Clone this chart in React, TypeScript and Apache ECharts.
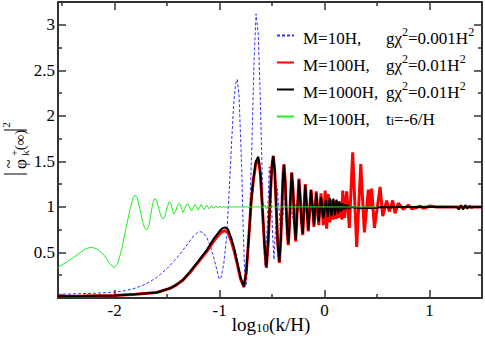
import { useEffect, useRef } from 'react';
import * as echarts from 'echarts';

const FONT = 'Liberation Serif';

// Axis ticks
const xMajorTicks = [-2, -1, 0, 1];
const xMinorTicks = [-2.5, -1.5, -0.5, 0.5];
const yMajorTicks = [0.5, 1, 1.5, 2, 2.5, 3];
const yMinorTicks = [0.25, 0.75, 1.25, 1.75, 2.25, 2.75];

// Series names (legend)
const seriesNames = [
  'M=10H, gχ2=0.001H2',
  'M=100H, gχ2=0.01H2',
  'M=1000H, gχ2=0.01H2',
  'M=100H, ti=-6/H',
];

// x = log10(k/H), y = |phi_k(inf)|^2
const blueM10: [number, number][] = [
  [-2.54, 0.04], [-2.4, 0.045], [-2.2, 0.052], [-2.0, 0.065], [-1.9, 0.08], [-1.806, 0.107],
  [-1.7, 0.155], [-1.6, 0.225], [-1.5, 0.325], [-1.45, 0.385], [-1.4, 0.45], [-1.346, 0.53],
  [-1.3, 0.6], [-1.25, 0.68], [-1.21, 0.72], [-1.186, 0.728], [-1.16, 0.72], [-1.12, 0.66],
  [-1.08, 0.54], [-1.05, 0.42], [-1.025, 0.3], [-1.003, 0.205], [-0.985, 0.23], [-0.96, 0.38],
  [-0.933, 0.67], [-0.91, 1.15], [-0.885, 1.73], [-0.865, 2.15], [-0.848, 2.35], [-0.832, 2.4],
  [-0.815, 2.22], [-0.79, 1.44], [-0.775, 0.75], [-0.758, 0.16], [-0.745, 0.15], [-0.72, 0.72],
  [-0.694, 1.62], [-0.672, 2.6], [-0.653, 3.12], [-0.632, 2.9], [-0.615, 2.3], [-0.6, 1.62],
  [-0.585, 0.9], [-0.57, 0.36], [-0.555, 0.55], [-0.54, 1.0], [-0.527, 1.44], [-0.51, 1.15],
  [-0.495, 0.7], [-0.482, 0.42], [-0.465, 0.8], [-0.45, 1.2], [-0.432, 0.95], [-0.415, 0.62],
  [-0.397, 0.88], [-0.38, 1.12], [-0.362, 0.95], [-0.345, 0.78], [-0.325, 1.08], [-0.305, 0.88],
  [-0.285, 1.06], [-0.265, 0.92], [-0.245, 1.04], [-0.225, 0.96], [-0.2, 1.02], [-0.17, 0.99],
  [-0.13, 1.0], [1.5, 1.0],
];

const redM100: [number, number][] = [
  [-2.54, 0.02], [-2.3, 0.022], [-2.0, 0.027], [-1.8, 0.04], [-1.6, 0.06], [-1.473, 0.105],
  [-1.42, 0.138], [-1.35, 0.195], [-1.282, 0.28], [-1.2, 0.4], [-1.123, 0.51], [-1.05, 0.635],
  [-1.0, 0.705], [-0.975, 0.73], [-0.949, 0.739], [-0.92, 0.72], [-0.89, 0.63], [-0.86, 0.51],
  [-0.837, 0.4], [-0.8, 0.21], [-0.768, 0.12], [-0.745, 0.3], [-0.72, 0.7], [-0.7, 1.05],
  [-0.679, 1.29], [-0.655, 1.48], [-0.632, 1.53], [-0.612, 1.37], [-0.592, 0.98], [-0.572, 0.57],
  [-0.555, 0.33], [-0.537, 0.62], [-0.518, 1.1], [-0.502, 1.45], [-0.489, 1.56], [-0.475, 1.4],
  [-0.46, 0.98], [-0.445, 0.57], [-0.431, 0.385], [-0.418, 0.62], [-0.405, 1.05], [-0.395, 1.36],
  [-0.387, 1.47], [-0.376, 1.3], [-0.365, 0.98], [-0.355, 0.71], [-0.346, 0.58], [-0.336, 0.76],
  [-0.325, 1.1], [-0.313, 1.38], [-0.301, 1.2], [-0.288, 0.84], [-0.275, 0.62], [-0.262, 0.92],
  [-0.244, 1.31], [-0.232, 1.1], [-0.22, 0.84], [-0.208, 0.69], [-0.196, 0.98], [-0.184, 1.25],
  [-0.17, 1.0], [-0.155, 0.73], [-0.142, 0.97], [-0.129, 1.19], [-0.115, 1.0], [-0.101, 0.78],
  [-0.079, 1.17], [-0.056, 0.8], [-0.034, 1.15], [-0.012, 0.8], [0.006, 1.18], [0.02, 0.76],
  [0.035, 1.14], [0.05, 0.83], [0.066, 1.08], [0.08, 0.86], [0.095, 1.07], [0.11, 0.87],
  [0.125, 1.06], [0.14, 0.88], [0.155, 1.05], [0.165, 0.86], [0.173, 1.18], [0.19, 0.88],
  [0.211, 1.17], [0.236, 0.77], [0.268, 1.6], [0.306, 0.56], [0.345, 1.47], [0.379, 0.72],
  [0.417, 1.19], [0.433, 0.98], [0.449, 1.2], [0.475, 0.77], [0.529, 1.22], [0.554, 0.9],
  [0.592, 1.07], [0.617, 0.95], [0.649, 1.07], [0.671, 0.93], [0.703, 1.04], [0.75, 0.975],
  [0.798, 1.02], [0.83, 0.98], [0.87, 0.99], [0.91, 1.01], [0.94, 0.985], [1.005, 1.01],
  [1.07, 1.0], [1.5, 1.0],
];

const blackM1000: [number, number][] = [
  [-2.54, 0.02], [-2.3, 0.022], [-2.0, 0.027], [-1.8, 0.04], [-1.6, 0.06], [-1.473, 0.107],
  [-1.42, 0.14], [-1.35, 0.2], [-1.282, 0.289], [-1.2, 0.41], [-1.123, 0.527], [-1.05, 0.66],
  [-1.0, 0.735], [-0.975, 0.765], [-0.949, 0.776], [-0.92, 0.755], [-0.89, 0.66], [-0.86, 0.54],
  [-0.837, 0.417], [-0.8, 0.22], [-0.768, 0.124], [-0.745, 0.3], [-0.72, 0.7], [-0.7, 1.05],
  [-0.679, 1.296], [-0.655, 1.5], [-0.632, 1.551], [-0.612, 1.38], [-0.592, 0.98], [-0.572, 0.58],
  [-0.555, 0.344], [-0.537, 0.62], [-0.518, 1.1], [-0.502, 1.45], [-0.489, 1.559], [-0.475, 1.4],
  [-0.46, 0.98], [-0.445, 0.58], [-0.431, 0.399], [-0.418, 0.62], [-0.405, 1.05], [-0.395, 1.35],
  [-0.387, 1.46], [-0.376, 1.3], [-0.365, 0.98], [-0.355, 0.72], [-0.346, 0.6], [-0.336, 0.76],
  [-0.325, 1.1], [-0.313, 1.369], [-0.301, 1.2], [-0.288, 0.84], [-0.275, 0.637], [-0.262, 0.92],
  [-0.244, 1.296], [-0.232, 1.1], [-0.22, 0.84], [-0.208, 0.71], [-0.196, 0.98], [-0.184, 1.24],
  [-0.17, 1.0], [-0.155, 0.747], [-0.142, 0.97], [-0.129, 1.186], [-0.115, 1.0], [-0.101, 0.8],
  [-0.079, 1.15], [-0.056, 0.838], [-0.034, 1.112], [-0.012, 0.875], [0.014, 1.076], [0.031, 0.89],
  [0.049, 1.1], [0.066, 0.9], [0.083, 1.09], [0.099, 0.91], [0.114, 1.08], [0.129, 0.93],
  [0.143, 1.06], [0.157, 0.95], [0.17, 1.04], [0.183, 0.97], [0.196, 1.03], [0.208, 0.98],
  [0.22, 1.02], [0.232, 0.985], [0.25, 1.0], [0.3, 0.99], [0.35, 0.985], [0.4, 0.99],
  [0.45, 0.985], [0.5, 0.99], [0.55, 1.0], [0.6, 0.995], [0.7, 1.0], [1.2, 1.0],
  [1.26, 1.0], [1.28, 0.97], [1.3, 1.02], [1.32, 0.97], [1.34, 1.02], [1.36, 0.98],
  [1.38, 1.01], [1.4, 0.99], [1.42, 1.0], [1.5, 1.0],
];

const greenTi: [number, number][] = [
  [-2.54, 0.337], [-2.45, 0.4], [-2.35, 0.48], [-2.28, 0.54], [-2.226, 0.557], [-2.17, 0.54],
  [-2.1, 0.47], [-2.05, 0.38], [-2.004, 0.333], [-1.97, 0.38], [-1.93, 0.55], [-1.89, 0.78],
  [-1.85, 0.99], [-1.825, 1.1], [-1.806, 1.131], [-1.785, 1.1], [-1.76, 0.98], [-1.735, 0.84],
  [-1.715, 0.77], [-1.695, 0.747], [-1.675, 0.79], [-1.655, 0.92], [-1.635, 1.05], [-1.616, 1.095],
  [-1.597, 1.06], [-1.575, 0.96], [-1.555, 0.89], [-1.537, 0.867], [-1.52, 0.9], [-1.5, 1.0],
  [-1.479, 1.057], [-1.462, 1.03], [-1.448, 0.96], [-1.435, 0.922], [-1.42, 0.95], [-1.403, 1.01],
  [-1.387, 1.04], [-1.372, 1.02], [-1.36, 0.97], [-1.349, 0.941], [-1.335, 0.97], [-1.32, 1.02],
  [-1.304, 1.035], [-1.286, 1.0], [-1.268, 0.955], [-1.252, 0.99], [-1.235, 1.03], [-1.22, 1.0],
  [-1.204, 0.965], [-1.19, 0.995], [-1.176, 1.025], [-1.162, 1.0], [-1.149, 0.972], [-1.137, 0.995],
  [-1.124, 1.02], [-1.1, 0.978], [-1.077, 1.015], [-1.056, 0.984], [-1.035, 1.012], [-1.015, 0.99],
  [-0.997, 1.008], [-0.98, 0.993], [-0.962, 1.006], [-0.945, 0.995], [-0.92, 1.0], [-0.62, 1.0],
  [-0.6, 1.015], [-0.585, 0.985], [-0.57, 1.02], [-0.555, 0.98], [-0.54, 1.015], [-0.525, 0.99],
  [-0.5, 1.01], [-0.48, 1.0], [0.5, 1.0],
];

// Legend rich labels
const legendRich: Record<string, string> = {
  [seriesNames[0]]: '{a|M=10H,}{b|gχ}{p|2}{b|=0.001H}{p|2}',
  [seriesNames[1]]: '{a|M=100H,}{b|gχ}{p|2}{b|=0.01H}{p|2}',
  [seriesNames[2]]: '{a|M=1000H,}{b|gχ}{p|2}{b|=0.01H}{p|2}',
  [seriesNames[3]]: '{a|M=100H,}{b|t}{s|i}{b|=-6/H}',
};

const axisColor = '#333';

function makeXAxis(position: 'top' | 'bottom', major: boolean, labels: boolean) {
  return {
    type: 'value',
    position,
    min: -2.54,
    max: 1.5,
    axisLine: { show: major, onZero: false, lineStyle: { color: axisColor, width: 2 } },
    axisTick: {
      show: true, inside: true, length: major ? 8 : 4,
      customValues: major ? xMajorTicks : xMinorTicks,
      lineStyle: { color: axisColor, width: 1.5 },
    },
    axisLabel: labels
      ? {
          show: true, margin: 4, fontFamily: FONT, fontSize: 17, color: '#000',
          formatter: (v: number) => (xMajorTicks.indexOf(v) >= 0 ? String(v) : ''),
        }
      : { show: false },
    splitLine: { show: false },
  };
}

function makeYAxis(position: 'left' | 'right', major: boolean, labels: boolean) {
  return {
    type: 'value',
    position,
    min: 0,
    max: 3.25,
    interval: 0.5,
    axisLine: { show: major, onZero: false, lineStyle: { color: axisColor, width: 2 } },
    axisTick: {
      show: true, inside: true, length: major ? 8 : 4,
      customValues: major ? yMajorTicks : yMinorTicks,
      lineStyle: { color: axisColor, width: 1.5 },
    },
    axisLabel: labels
      ? {
          show: true, margin: 3, fontFamily: FONT, fontSize: 17, color: '#000',
          formatter: (v: number) => (yMajorTicks.indexOf(v) >= 0 ? String(v) : ''),
        }
      : { show: false },
    splitLine: { show: false },
  };
}

function txt(text: string, x: number, y: number, fontSize: number) {
  return {
    type: 'text', x, y,
    style: {
      text, fontFamily: FONT, fontSize, fill: '#000',
      align: 'center', verticalAlign: 'middle',
    },
  };
}

export default function App() {
  const ref = useRef<HTMLDivElement>(null);
  useEffect(() => {
    if (!ref.current) return;
    const chart = echarts.init(ref.current, undefined, { renderer: 'svg' });
    const option = {
      animation: false,
      backgroundColor: '#fff',
      textStyle: { fontFamily: FONT },
      grid: { left: 58, right: 3, top: 2, bottom: 42, containLabel: false },
      xAxis: [
        makeXAxis('bottom', true, true),
        makeXAxis('bottom', false, false),
        makeXAxis('top', true, false),
        makeXAxis('top', false, false),
      ],
      yAxis: [
        makeYAxis('left', true, true),
        makeYAxis('left', false, false),
        makeYAxis('right', true, false),
        makeYAxis('right', false, false),
      ],
      legend: {
        orient: 'vertical',
        left: 276,
        top: 24,
        padding: 0,
        itemGap: 4,
        itemWidth: 17,
        itemHeight: 14,
        selectedMode: false,
        itemStyle: { opacity: 0 },
        data: seriesNames,
        formatter: (name: string) => legendRich[name] || name,
        textStyle: {
          fontFamily: FONT,
          fontSize: 17,
          color: '#000',
          padding: [0, 0, 0, 4],
          rich: {
            a: { fontFamily: FONT, fontSize: 17, color: '#000', lineHeight: 20, padding: [6, 0, 0, 0], width: 83 },
            b: { fontFamily: FONT, fontSize: 17, color: '#000', lineHeight: 20, padding: [6, 0, 0, 0] },
            p: { fontFamily: FONT, fontSize: 12, color: '#000', lineHeight: 12, verticalAlign: 'top' },
            s: { fontFamily: FONT, fontSize: 12, color: '#000', lineHeight: 8, verticalAlign: 'bottom' },
          },
        },
      },
      series: [
        {
          type: 'line', name: seriesNames[0], data: blueM10, xAxisIndex: 0, yAxisIndex: 0,
          symbol: 'none', showSymbol: false, z: 2,
          lineStyle: { color: '#3333ff', width: 1, type: [3, 2] },
          itemStyle: { color: '#3333ff' },
        },
        {
          type: 'line', name: seriesNames[1], data: redM100, xAxisIndex: 0, yAxisIndex: 0,
          symbol: 'none', showSymbol: false, z: 3,
          lineStyle: { color: '#ff0000', width: 3 },
          itemStyle: { color: '#ff0000' },
        },
        {
          type: 'line', name: seriesNames[2], data: blackM1000, xAxisIndex: 0, yAxisIndex: 0,
          symbol: 'none', showSymbol: false, z: 4,
          lineStyle: { color: '#000000', width: 2 },
          itemStyle: { color: '#000000' },
        },
        {
          type: 'line', name: seriesNames[3], data: greenTi, xAxisIndex: 0, yAxisIndex: 0,
          symbol: 'none', showSymbol: false, z: 5,
          lineStyle: { color: '#22ee22', width: 1 },
          itemStyle: { color: '#22ee22' },
        },
      ],
      graphic: [
        {
          type: 'text', x: 271, y: 324, z: 10,
          style: {
            text: '{m|log}{s|10}{m|(k/H)}',
            fontFamily: FONT, fontSize: 19, fill: '#000',
            align: 'center', verticalAlign: 'middle',
            rich: {
              m: { fontFamily: FONT, fontSize: 19, lineHeight: 13 },
              s: { fontFamily: FONT, fontSize: 13, lineHeight: 9, padding: [6, 0, 0, 0] },
            },
          },
        },
        {
          type: 'group', x: 0, y: 178, rotation: Math.PI / 2, z: 10,
          children: [
            { type: 'line', shape: { x1: 4, y1: 4, x2: 4, y2: 27 }, style: { stroke: '#000', lineWidth: 1 } },
            txt('φ', 14, 20, 17),
            txt('~', 14, 8, 17),
            txt('+', 25, 14, 11),
            txt('k', 25, 25, 11),
            txt('(∞)', 38, 20, 15),
            { type: 'line', shape: { x1: 48, y1: 4, x2: 48, y2: 27 }, style: { stroke: '#000', lineWidth: 1 } },
            txt('2', 53, 6, 11),
          ],
        },
      ],
    };
    chart.setOption(option as any);
    return () => chart.dispose();
  }, []);
  return <div ref={ref} style={{ position: 'fixed', left: 0, top: 0, width: 485, height: 340, background: '#fff' }} />;
}
